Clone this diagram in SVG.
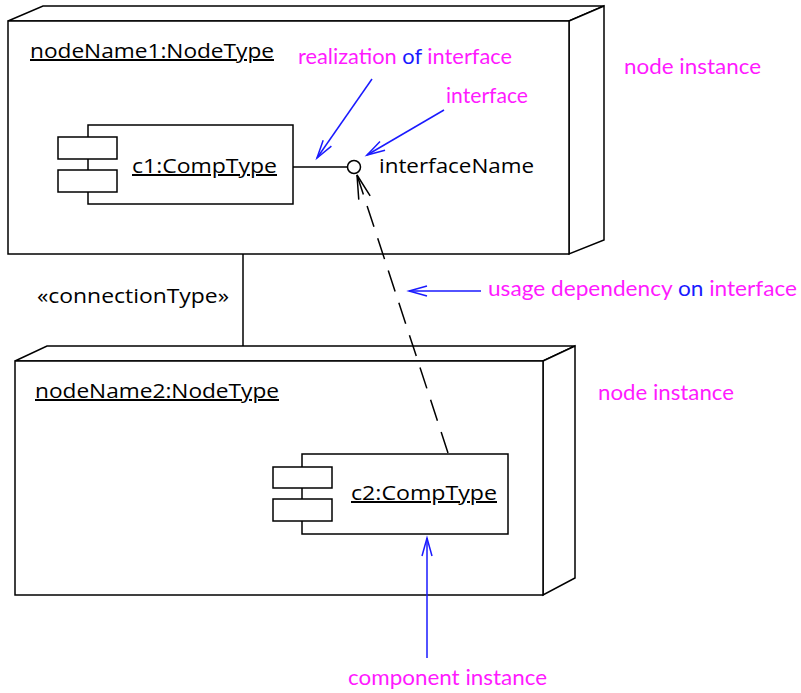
<svg xmlns="http://www.w3.org/2000/svg" width="801" height="693" viewBox="0 0 801 693">
<style>
.shape{fill:#fff;stroke:#000;stroke-width:1.5;stroke-linejoin:miter}
.line{fill:none;stroke:#000;stroke-width:1.5}
.blue{fill:none;stroke:#1a1aff;stroke-width:1.5}
.t{font-family:"Open Sans","Liberation Sans",sans-serif;font-size:20px;fill:#000}
.u{text-decoration:underline}
.m{font-family:"Lato","Liberation Sans",sans-serif;font-size:21px;fill:#ff1aff}
.b{fill:#1a1aff}
</style>
<defs>
<marker id="openBlue" markerUnits="userSpaceOnUse" viewBox="-20 -8 22 16" refX="0" refY="0" markerWidth="22" markerHeight="16" orient="auto" overflow="visible">
<path d="M-18,-5 L0,0 L-18,5" fill="none" stroke="#1a1aff" stroke-width="1.5"/>
</marker>
<marker id="openBlack" markerUnits="userSpaceOnUse" viewBox="-26 -8 28 16" refX="0" refY="0" markerWidth="28" markerHeight="16" orient="auto" overflow="visible">
<path d="M-24,-6 L0,0 L-24,6" fill="none" stroke="#000" stroke-width="1.5"/>
</marker>
</defs>
<rect width="801" height="693" fill="#fff"/>

<g id="node1">
<polygon class="shape" points="8,21 43,6 604,6 569,21"/>
<polygon class="shape" points="569,21 604,6 604,240 569,254"/>
<rect class="shape" x="8" y="21" width="561" height="233"/>
<text class="t u" x="30" y="58" textLength="244" lengthAdjust="spacingAndGlyphs">nodeName1:NodeType</text>
</g>

<g id="node2">
<polygon class="shape" points="15,361 47,346 575,346 543,361"/>
<polygon class="shape" points="543,361 575,346 575,578 543,595"/>
<rect class="shape" x="15" y="361" width="528" height="234"/>
<text class="t u" x="35" y="398" textLength="244" lengthAdjust="spacingAndGlyphs">nodeName2:NodeType</text>
</g>

<g id="c1">
<rect class="shape" x="88" y="125" width="205" height="79"/>
<rect class="shape" x="58" y="137" width="59" height="22"/>
<rect class="shape" x="58" y="170" width="59" height="22"/>
<text class="t u" x="132" y="173" font-size="21" textLength="145" lengthAdjust="spacingAndGlyphs">c1:CompType</text>
</g>

<g id="c2">
<rect class="shape" x="302" y="454" width="206" height="80"/>
<rect class="shape" x="273" y="467" width="59" height="21"/>
<rect class="shape" x="273" y="499" width="59" height="22"/>
<text class="t u" x="351" y="500" font-size="21" textLength="146" lengthAdjust="spacingAndGlyphs">c2:CompType</text>
</g>

<g id="interface">
<circle class="shape" cx="354" cy="167" r="6.5"/>
<text class="t" x="379" y="173" textLength="155" lengthAdjust="spacingAndGlyphs">interfaceName</text>
</g>

<g id="connectors">
<line class="line" x1="293" y1="167" x2="347.5" y2="167"/>
<line class="line" x1="243" y1="254" x2="243" y2="346"/>
<text class="t" x="37" y="303" textLength="192" lengthAdjust="spacingAndGlyphs">«connectionType»</text>
<line class="line" x1="448" y1="453" x2="357" y2="175" stroke-dasharray="22,12" marker-end="url(#openBlack)"/>
</g>

<g id="annotations">
<line class="blue" x1="372" y1="79" x2="317" y2="158" marker-end="url(#openBlue)"/>
<line class="blue" x1="444" y1="110" x2="367" y2="155" marker-end="url(#openBlue)"/>
<line class="blue" x1="481" y1="291" x2="409" y2="291" marker-end="url(#openBlue)"/>
<line class="blue" x1="427" y1="658" x2="427" y2="538" marker-end="url(#openBlue)"/>
<text class="m" x="298" y="64" textLength="214" lengthAdjust="spacingAndGlyphs">realization <tspan class="b">of</tspan> interface</text>
<text class="m" x="446" y="103" textLength="82" lengthAdjust="spacingAndGlyphs">interface</text>
<text class="m" x="488" y="296" textLength="309" lengthAdjust="spacingAndGlyphs">usage dependency <tspan class="b">on</tspan> interface</text>
<text class="m" x="624" y="74" textLength="137" lengthAdjust="spacingAndGlyphs">node instance</text>
<text class="m" x="598" y="400" textLength="136" lengthAdjust="spacingAndGlyphs">node instance</text>
<text class="m" x="348" y="685" textLength="199" lengthAdjust="spacingAndGlyphs">component instance</text>
</g>
</svg>
